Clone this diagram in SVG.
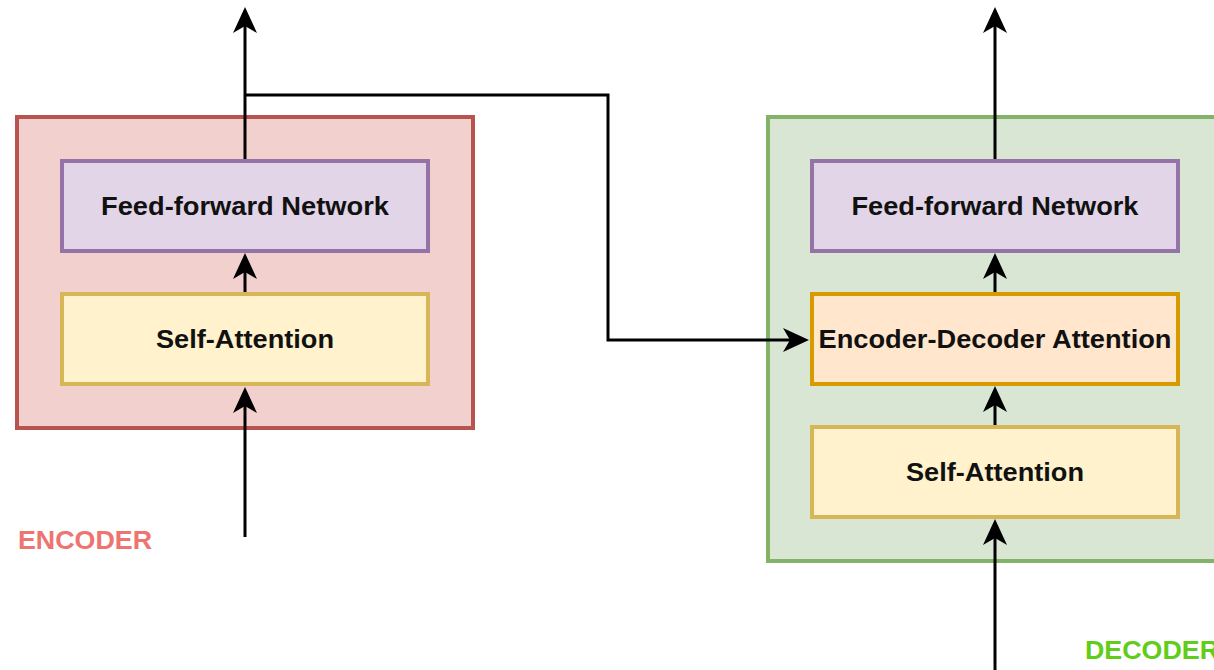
<svg xmlns="http://www.w3.org/2000/svg" width="1214" height="670" viewBox="0 0 1214 670">
<style>
.red{fill:#f2d0ce;stroke:#b85450;stroke-width:4}
.green{fill:#d9e6d4;stroke:#82b366;stroke-width:4}
.purple{fill:#e1d5e7;stroke:#9673a6;stroke-width:4}
.yellow{fill:#fff2cc;stroke:#d6b656;stroke-width:4}
.orange{fill:#ffe6cc;stroke:#d79b00;stroke-width:4}
.lbl{font-family:"Liberation Sans",Arial,sans-serif;font-weight:bold;font-size:25px;fill:#111;text-anchor:middle}
.cap{font-family:"Liberation Sans",Arial,sans-serif;font-weight:bold;font-size:25px}
.conn{fill:none;stroke:#000;stroke-width:3;marker-end:url(#arr)}
</style>
<defs>
<marker id="arr" markerUnits="userSpaceOnUse" viewBox="-8 -13 28 26" markerWidth="28" markerHeight="26" refX="0" refY="0" orient="auto">
<path d="M19,0 L-7,-12 L0,0 L-7,12 Z" fill="#000"/>
</marker>
</defs>
<rect width="1214" height="670" fill="#fff"/>
<g id="encoder">
<rect class="red" x="17" y="117" width="456" height="311"/>
</g>
<g id="decoder">
<rect class="green" x="768" y="117" width="456" height="444"/>
</g>
<g id="enc-ffn">
<rect class="purple" x="62" y="161" width="366" height="90"/>
<text class="lbl" x="245" y="215" textLength="288" lengthAdjust="spacingAndGlyphs">Feed-forward Network</text>
</g>
<g id="enc-sa">
<rect class="yellow" x="62" y="294" width="366" height="90"/>
<text class="lbl" x="245" y="348" textLength="178" lengthAdjust="spacingAndGlyphs">Self-Attention</text>
</g>
<g id="dec-ffn">
<rect class="purple" x="812" y="161" width="366" height="90"/>
<text class="lbl" x="995" y="215" textLength="287" lengthAdjust="spacingAndGlyphs">Feed-forward Network</text>
</g>
<g id="dec-eda">
<rect class="orange" x="812" y="294" width="366" height="90"/>
<text class="lbl" x="995" y="348" textLength="353" lengthAdjust="spacingAndGlyphs">Encoder-Decoder Attention</text>
</g>
<g id="dec-sa">
<rect class="yellow" x="812" y="427" width="366" height="90"/>
<text class="lbl" x="995" y="481" textLength="178" lengthAdjust="spacingAndGlyphs">Self-Attention</text>
</g>
<g id="labels">
<text class="cap" x="18" y="549" fill="#ee7470" textLength="134" lengthAdjust="spacingAndGlyphs">ENCODER</text>
<text class="cap" x="1085" y="659" fill="#62cc1a" textLength="134" lengthAdjust="spacingAndGlyphs">DECODER</text>
</g>
<g id="connectors">
<path class="conn" d="M245,159 L245,26"/>
<path class="conn" d="M245,292 L245,272"/>
<path class="conn" d="M245,537 L245,406"/>
<path class="conn" d="M245,95 L608,95 L608,340 L790,340"/>
<path class="conn" d="M995,159 L995,26"/>
<path class="conn" d="M995,292 L995,272"/>
<path class="conn" d="M995,425 L995,405"/>
<path class="conn" d="M995,670 L995,538"/>
</g>
</svg>
